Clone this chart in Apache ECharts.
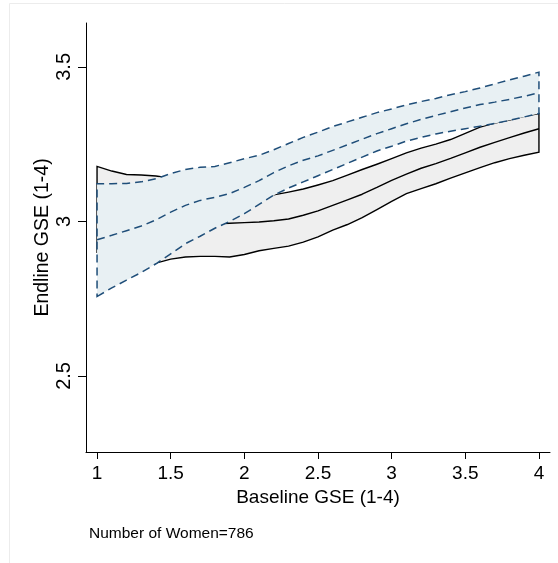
<!DOCTYPE html>
<html>
<head>
<meta charset="utf-8">
<script src="https://cdn.jsdelivr.net/npm/echarts@6/dist/echarts.min.js"></script>
<style>
  html, body { margin: 0; padding: 0; background: #fff; }
  #main { width: 558px; height: 563px; }
</style>
</head>
<body>
<div id="main"></div>
<script>
// baseline GSE grid
var xs = [1,1.1,1.2,1.3,1.4,1.5,1.6,1.7,1.8,1.9,2,2.1,2.2,2.3,2.4,2.5,2.6,2.7,2.8,2.9,3,3.1,3.2,3.3,3.4,3.5,3.6,3.7,3.8,3.9,4];
// grey band (solid outline) and its middle line
var greyHi = [3.178,3.163,3.152,3.150,3.147,3.140,3.130,3.120,3.110,3.100,3.095,3.090,3.086,3.095,3.105,3.118,3.132,3.150,3.168,3.185,3.203,3.222,3.237,3.250,3.265,3.285,3.305,3.318,3.328,3.340,3.349];
var greyMid = [3.040,3.030,3.020,3.010,3.005,3.000,2.995,2.993,2.992,2.994,2.996,2.998,3.002,3.008,3.020,3.034,3.052,3.070,3.088,3.110,3.133,3.153,3.172,3.187,3.204,3.222,3.240,3.256,3.271,3.286,3.300];
var greyLo = [2.900,2.890,2.880,2.870,2.865,2.878,2.885,2.887,2.887,2.885,2.893,2.905,2.913,2.920,2.933,2.950,2.972,2.990,3.012,3.038,3.065,3.090,3.106,3.122,3.140,3.157,3.174,3.190,3.203,3.214,3.224];
// blue band (dashed outline) and its middle line
var blueHi = [3.122,3.122,3.123,3.128,3.138,3.155,3.168,3.175,3.178,3.190,3.203,3.214,3.232,3.252,3.272,3.289,3.307,3.322,3.337,3.352,3.364,3.377,3.388,3.398,3.410,3.420,3.432,3.445,3.458,3.470,3.483];
var blueMid = [2.941,2.955,2.970,2.985,3.005,3.030,3.052,3.068,3.078,3.090,3.110,3.132,3.158,3.180,3.198,3.212,3.230,3.248,3.266,3.284,3.300,3.316,3.330,3.343,3.355,3.367,3.378,3.386,3.395,3.405,3.416];
var blueLo = [2.757,2.785,2.810,2.835,2.863,2.895,2.928,2.952,2.978,3.000,3.025,3.055,3.085,3.108,3.128,3.148,3.168,3.188,3.208,3.228,3.243,3.260,3.272,3.283,3.292,3.300,3.308,3.317,3.327,3.338,3.349];

var xTicks = [1,1.5,2,2.5,3,3.5,4];
var yTicks = [2.5,3,3.5];

var font = 'Liberation Sans, Arial, Helvetica, sans-serif';
var navy = '#1f4e79';

function pairs(ys) {
  return xs.map(function (x, i) { return [x, ys[i]]; });
}

function band(lo, hi, style) {
  return function (params, api) {
    var pts = [];
    for (var i = 0; i < xs.length; i++) pts.push(api.coord([xs[i], lo[i]]));
    for (var j = xs.length - 1; j >= 0; j--) pts.push(api.coord([xs[j], hi[j]]));
    return { type: 'polygon', shape: { points: pts }, style: style };
  };
}

var chartDom = document.getElementById('main');
var myChart = echarts.init(chartDom);

var option = {
  backgroundColor: '#fff',
  animation: false,
  graphic: [
    { type: 'rect', shape: { x: 9.5, y: 3.5, width: 580, height: 600 },
      style: { fill: null, stroke: '#ececec', lineWidth: 1 }, silent: true },
    { type: 'text', left: 89, top: 526,
      style: { text: 'Number of Women=786', fontFamily: font, fontSize: 15.5, fill: '#000' } }
  ],
  grid: { left: 86, right: 8, top: 23, bottom: 111 },
  xAxis: {
    type: 'value', min: 0.925, max: 4.075,
    name: 'Baseline GSE (1-4)', nameLocation: 'middle', nameGap: 28,
    nameTextStyle: { fontFamily: font, fontSize: 19, color: '#000' },
    axisLine: { onZero: false, lineStyle: { color: '#000', width: 1 } },
    axisTick: { customValues: xTicks, length: 7, lineStyle: { color: '#000' } },
    axisLabel: { customValues: xTicks, margin: 12, fontFamily: font, fontSize: 19, color: '#000' },
    splitLine: { show: false }
  },
  yAxis: {
    type: 'value', min: 2.254, max: 3.642,
    name: 'Endline GSE (1-4)', nameLocation: 'middle', nameGap: 33, nameMoveOverlap: false,
    nameTextStyle: { fontFamily: font, fontSize: 19.5, color: '#000' },
    axisLine: { show: true, onZero: false, lineStyle: { color: '#000', width: 1 } },
    axisTick: { show: true, customValues: yTicks, length: 8, lineStyle: { color: '#000' } },
    axisLabel: { customValues: yTicks, rotate: 90, margin: 12, fontFamily: font, fontSize: 20, color: '#000' },
    splitLine: { show: false }
  },
  series: [
    {
      type: 'custom', z: 1, data: [[xs[0], greyLo[0]]], silent: true,
      renderItem: band(greyLo, greyHi, { fill: '#efefef', stroke: '#000', lineWidth: 1.4 })
    },
    {
      type: 'line', z: 2, data: pairs(greyMid), showSymbol: false, silent: true,
      lineStyle: { color: '#000', width: 1.4 }
    },
    {
      type: 'custom', z: 3, data: [[xs[0], blueLo[0]]], silent: true,
      renderItem: band(blueLo, blueHi, { fill: '#e8f0f3', stroke: navy, lineWidth: 1.5, lineDash: [8, 5] })
    },
    {
      type: 'line', z: 4, data: pairs(blueMid), showSymbol: false, silent: true,
      lineStyle: { color: navy, width: 1.5, type: [8, 5] }
    }
  ]
};

myChart.setOption(option);
</script>
</body>
</html>
